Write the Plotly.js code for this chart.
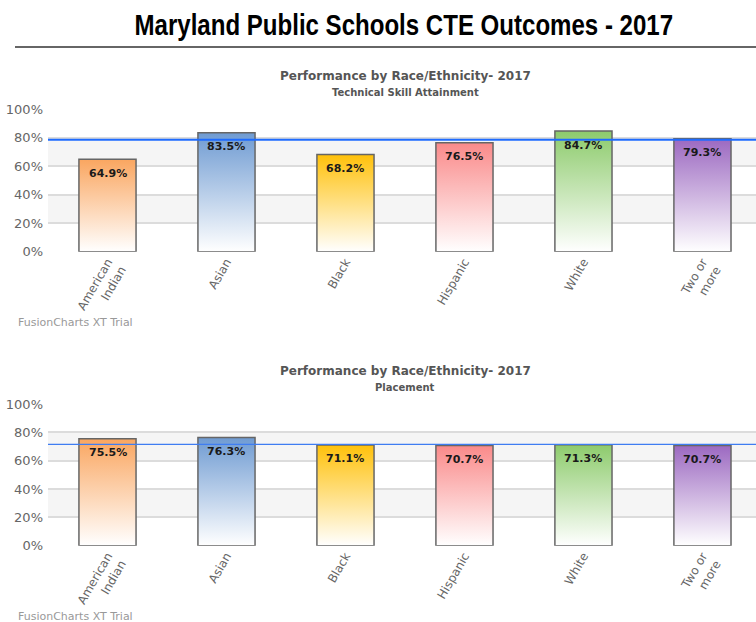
<!DOCTYPE html>
<html><head><meta charset="utf-8">
<script src="https://cdn.plot.ly/plotly-3.0.1.min.js"></script>
<style>html,body{margin:0;padding:0;background:#fff}#chart{width:756px;height:622px}</style>
</head><body><div id="chart"></div>
<script>
// ---- data ----
const categories = ['American<br>Indian', 'Asian', 'Black', 'Hispanic', 'White', 'Two or<br>more'];
const skillValues = [64.9, 83.5, 68.2, 76.5, 84.7, 79.3];
const placementValues = [75.5, 76.3, 71.1, 70.7, 71.3, 70.7];
const targetValues = [78.6, 71.5];
const yTickValues = [0, 20, 40, 60, 80, 100];
const yTickLabels = ['0%', '20%', '40%', '60%', '80%', '100%'];
const mainTitle = 'Maryland Public Schools CTE Outcomes - 2017';
const chartTitle = 'Performance by Race/Ethnicity- 2017';
const subTitles = ['Technical Skill Attainment', 'Placement'];
const barColors = ['#faa660', '#6f9bd2', '#ffc10a', '#fa8a8a', '#8dcb6c', '#9c69c1'];

// ---- layout helpers ----
const W = 756, H = 622;
const py = p => 1 - p / H;
const px = p => p / W;
const xDomain = [48 / W, 1];
const xRange = [-0.5, 5.45];
const FONT = 'DejaVu Sans, Verdana, sans-serif';

function barTrace(vals, xa, ya) {
  return {
    type: 'bar', x: categories, y: vals, xaxis: xa, yaxis: ya, width: 0.48,
    marker: { color: barColors, line: { color: '#666666', width: 1.5 } },
    hoverinfo: 'skip', showlegend: false
  };
}

const data = [barTrace(skillValues, 'x', 'y'), barTrace(placementValues, 'x2', 'y2')];

function xAxis(anchor) {
  return {
    domain: xDomain, range: xRange, anchor: anchor, type: 'category',
    tickangle: -60, showgrid: false, zeroline: false, showline: false, ticks: '',
    tickfont: { family: FONT, size: 12, color: '#666666' }, fixedrange: true
  };
}
function yAxis(anchor, top, bottom) {
  return {
    domain: [py(bottom), py(top)], range: [0, 100], anchor: anchor,
    tickmode: 'array', tickvals: yTickValues, ticktext: yTickLabels,
    showgrid: true, gridcolor: '#dcdcdc', gridwidth: 2,
    zeroline: false, showline: false, ticks: '', ticklabelstandoff: 4,
    tickfont: { family: FONT, size: 13, color: '#666666' }, fixedrange: true
  };
}

const shapes = [
  { type: 'line', xref: 'paper', yref: 'paper', x0: px(15), x1: 1, y0: py(47), y1: py(47),
    line: { color: '#333333', width: 1.5 } }
];
[['x', 'y'], ['x2', 'y2']].forEach(([xa, ya], k) => {
  [[20, 40], [60, 80]].forEach(([a, b]) => shapes.push({
    type: 'rect', xref: xa + ' domain', yref: ya, x0: 0, x1: 1, y0: a, y1: b,
    fillcolor: '#f5f5f5', line: { width: 0 }, layer: 'below'
  }));
  shapes.push({
    type: 'line', xref: xa + ' domain', yref: ya, x0: 0, x1: 1,
    y0: targetValues[k], y1: targetValues[k],
    line: { color: k === 0 ? '#1e6bff' : '#3f7df2', width: k === 0 ? 2 : 1.3 }, layer: 'above'
  });
});

const annotations = [
  { text: mainTitle, xref: 'paper', yref: 'paper', x: px(392), y: py(25), showarrow: false,
    xanchor: 'center', yanchor: 'middle',
    font: { family: 'Liberation Sans, Arial', size: 29, color: '#000', weight: 'bold' } }
];
[[76, 93, 322], [371, 387, 616]].forEach(([t, s, f], k) => {
  annotations.push({ text: chartTitle, xref: 'paper', yref: 'paper', x: px(405), y: py(t), showarrow: false,
    xanchor: 'center', yanchor: 'middle', font: { family: FONT, size: 12, color: '#555555', weight: 'bold' } });
  annotations.push({ text: subTitles[k], xref: 'paper', yref: 'paper', x: px(405), y: py(s), showarrow: false,
    xanchor: 'center', yanchor: 'middle', font: { family: FONT, size: 10, color: '#555555', weight: 'bold' } });
  annotations.push({ text: 'FusionCharts XT Trial', xref: 'paper', yref: 'paper', x: px(16), y: py(f), showarrow: false,
    xanchor: 'left', yanchor: 'middle', font: { family: FONT, size: 11, color: '#999999' } });
});
// value labels inside bars near the top
[[skillValues, 'x', 'y'], [placementValues, 'x2', 'y2']].forEach(([vals, xa, ya]) => {
  vals.forEach((v, i) => annotations.push({
    text: v.toFixed(1) + '%', xref: xa, yref: ya, x: categories[i], y: v, yshift: -14,
    showarrow: false, xanchor: 'center', yanchor: 'middle',
    font: { family: FONT, size: 11, color: '#1a1a1a', weight: 'bold' }
  }));
});

const layout = {
  width: W, height: H, margin: { l: 0, r: 0, t: 0, b: 0 },
  paper_bgcolor: '#ffffff', plot_bgcolor: 'rgba(0,0,0,0)', showlegend: false,
  xaxis: xAxis('y'), yaxis: yAxis('x', 109.3, 251.7),
  xaxis2: xAxis('y2'), yaxis2: yAxis('x2', 404, 545.7),
  shapes: shapes, annotations: annotations
};

Plotly.newPlot('chart', data, layout, { staticPlot: true, displayModeBar: false }).then(gd => {
  const ns = 'http://www.w3.org/2000/svg';
  const svg = gd.querySelector('svg.main-svg');
  let defs = svg.querySelector('defs');
  if (!defs) { defs = document.createElementNS(ns, 'defs'); svg.insertBefore(defs, svg.firstChild); }
  barColors.forEach((c, i) => {
    const lg = document.createElementNS(ns, 'linearGradient');
    lg.setAttribute('id', 'bargrad' + i);
    lg.setAttribute('x1', '0'); lg.setAttribute('y1', '0');
    lg.setAttribute('x2', '0'); lg.setAttribute('y2', '1');
    [['0', c], ['1', '#ffffff']].forEach(([o, col]) => {
      const st = document.createElementNS(ns, 'stop');
      st.setAttribute('offset', o); st.setAttribute('stop-color', col);
      lg.appendChild(st);
    });
    defs.appendChild(lg);
  });
  gd.querySelectorAll('.barlayer .trace').forEach(tr => {
    tr.querySelectorAll('.point path').forEach((p, i) => { p.style.fill = 'url(#bargrad' + i + ')'; });
  });
  // condense the main title horizontally (reference uses a condensed bold face)
  gd.querySelectorAll('.annotation-text').forEach(t => {
    if (t.textContent === mainTitle) {
      const cx = px(392) * W;
      t.setAttribute('transform', 'translate(' + cx + ',0) scale(0.83,1) translate(' + (-cx) + ',0)');
    }
  });
});
</script>
</body></html>
